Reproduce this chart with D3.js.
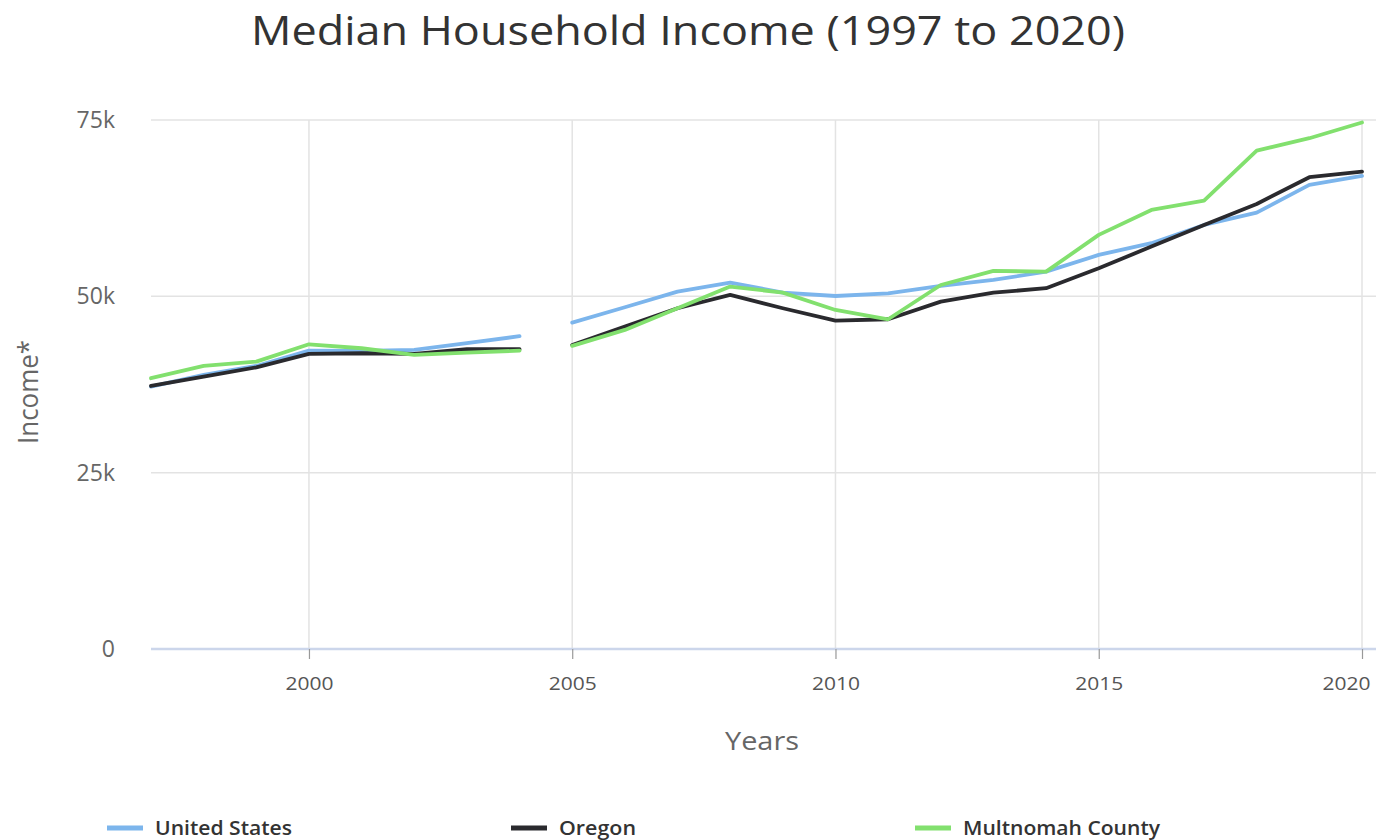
<!DOCTYPE html>
<html>
<head>
<meta charset="utf-8">
<script src="https://cdn.jsdelivr.net/npm/d3@7"></script>
<style>
  body { margin: 0; background: #fff; }
  svg { display: block; font-family: "Open Sans", "Noto Sans", sans-serif; }
</style>
</head>
<body>
<svg id="chart" width="1379" height="840"></svg>
<script>
// data
const years = [1997, 1998, 1999, 2000, 2001, 2002, 2003, 2004,
               2005, 2006, 2007, 2008, 2009, 2010, 2011, 2012,
               2013, 2014, 2015, 2016, 2017, 2018, 2019, 2020];
// the series break between 2004 and 2005
const segmentStarts = [1997, 2005];

const unitedStates = [37200, 38850, 40130, 42300, 42250, 42400, 43350, 44350,
                      46270, 48450, 50670, 51940, 50530, 50050, 50430, 51470,
                      52330, 53500, 55870, 57530, 60120, 61870, 65800, 67070];
const oregon = [37290, 38620, 39940, 41830, 41930, 41830, 42500, 42500,
                43110, 45700, 48310, 50200, 48310, 46550, 46750, 49250,
                50530, 51150, 53990, 57050, 60120, 63100, 66890, 67690];
const multnomah = [38390, 40130, 40740, 43200, 42640, 41690, 42020, 42300,
                   42970, 45240, 48310, 51380, 50530, 48070, 46750, 51610,
                   53600, 53500, 58710, 62250, 63570, 70660, 72420, 74640];

const seriesNames = ["United States", "Oregon", "Multnomah County"];
const seriesColors = ["#7cb5ec", "#2a2a2e", "#82e06e"];
const xTicks = [2000, 2005, 2010, 2015, 2020];
const yTicks = [0, 25000, 50000, 75000];

const svg = d3.select("#chart");
const plot = { left: 151, right: 1376, top: 120, bottom: 649 };

const x = d3.scaleLinear().domain([1997, 2020]).range([plot.left, 1362]);
const y = d3.scaleLinear().domain([0, 75000]).range([plot.bottom, plot.top]);

// title
svg.append("text")
    .attr("x", 688).attr("y", 45)
    .attr("text-anchor", "middle")
    .attr("font-size", 40)
    .attr("fill", "#333")
    .attr("textLength", 874).attr("lengthAdjust", "spacingAndGlyphs")
    .text("Median Household Income (1997 to 2020)");

// horizontal grid
svg.append("g").selectAll("line")
    .data(yTicks.filter(d => d > 0))
    .enter().append("line")
    .attr("x1", plot.left).attr("x2", plot.right)
    .attr("y1", d => y(d)).attr("y2", d => y(d))
    .attr("stroke", "#e3e3e3").attr("stroke-width", 1.5);

// vertical grid
svg.append("g").selectAll("line")
    .data(xTicks)
    .enter().append("line")
    .attr("x1", d => x(d)).attr("x2", d => x(d))
    .attr("y1", plot.top).attr("y2", plot.bottom)
    .attr("stroke", "#e3e3e3").attr("stroke-width", 1.5);

// y axis labels
const yAxis = svg.append("g")
    .attr("transform", `translate(${plot.left},0)`)
    .call(d3.axisLeft(y).tickValues(yTicks).tickSize(0).tickPadding(36)
        .tickFormat(d => d === 0 ? "0" : d / 1000 + "k"));
yAxis.select(".domain").remove();
yAxis.selectAll("text")
    .attr("font-family", "Open Sans, sans-serif")
    .attr("font-size", 23).attr("fill", "#666");

svg.append("text")
    .attr("transform", "translate(38,392) rotate(-90)")
    .attr("text-anchor", "middle")
    .attr("font-size", 27).attr("fill", "#666")
    .attr("textLength", 104).attr("lengthAdjust", "spacingAndGlyphs")
    .text("Income*");

// x axis
svg.append("line")
    .attr("x1", plot.left).attr("x2", plot.right)
    .attr("y1", plot.bottom).attr("y2", plot.bottom)
    .attr("stroke", "#ccd6eb").attr("stroke-width", 2.5);

const xAxis = svg.append("g")
    .attr("transform", `translate(0,${plot.bottom})`)
    .call(d3.axisBottom(x).tickValues(xTicks).tickSize(10).tickPadding(18)
        .tickFormat(d3.format("d")));
xAxis.select(".domain").remove();
xAxis.selectAll(".tick line").attr("stroke", "#999").attr("stroke-width", 1.2);
xAxis.selectAll("text")
    .attr("font-family", "Open Sans, sans-serif")
    .attr("font-size", 18).attr("fill", "#555")
    .attr("textLength", 48).attr("lengthAdjust", "spacingAndGlyphs");
// last label pulled inside the chart edge
xAxis.selectAll(".tick text").filter(d => d === 2020)
    .attr("text-anchor", "end").attr("x", 8);

svg.append("text")
    .attr("x", 762).attr("y", 750)
    .attr("text-anchor", "middle")
    .attr("font-size", 26).attr("fill", "#666")
    .attr("textLength", 74).attr("lengthAdjust", "spacingAndGlyphs")
    .text("Years");

// lines
const allSeries = [unitedStates, oregon, multnomah];
const line = d3.line().x(d => x(d.year)).y(d => y(d.value));

allSeries.forEach((vals, i) => {
    const pts = years.map((yr, j) => ({ year: yr, value: vals[j] }));
    segmentStarts.forEach((start, k) => {
        const end = k + 1 < segmentStarts.length ? segmentStarts[k + 1] : Infinity;
        const seg = pts.filter(p => p.year >= start && p.year < end);
        svg.append("path")
            .datum(seg)
            .attr("d", line)
            .attr("fill", "none")
            .attr("stroke", seriesColors[i])
            .attr("stroke-width", 3.8)
            .attr("stroke-linejoin", "round")
            .attr("stroke-linecap", "round");
    });
});

// legend
const legendX = [107, 511, 915];
const legendW = [137, 77, 197];
const legend = svg.append("g").selectAll("g")
    .data(seriesNames)
    .enter().append("g")
    .attr("transform", (d, i) => `translate(${legendX[i]},828)`);
legend.append("line")
    .attr("x1", 0).attr("x2", 36).attr("y1", 0).attr("y2", 0)
    .attr("stroke", (d, i) => seriesColors[i]).attr("stroke-width", 5);
legend.append("text")
    .attr("x", 48).attr("y", 7)
    .attr("font-size", 20).attr("font-weight", 600).attr("fill", "#333")
    .attr("textLength", (d, i) => legendW[i]).attr("lengthAdjust", "spacingAndGlyphs")
    .text(d => d);
</script>
</body>
</html>
